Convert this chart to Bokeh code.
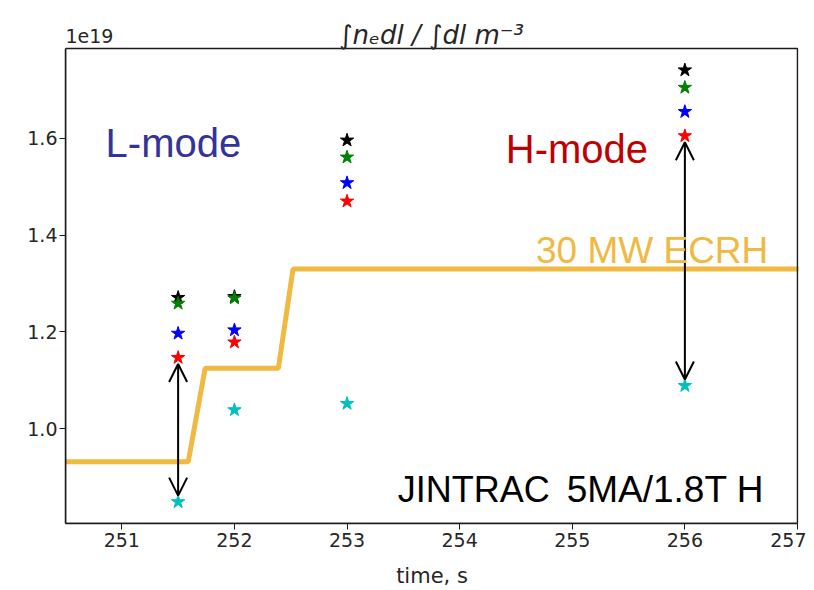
from bokeh.plotting import figure
from bokeh.models import Label, Arrow, OpenHead, Range1d, FixedTicker, BoxAnnotation
from bokeh.embed import file_html
from bokeh.resources import INLINE

# ---- data (values in units of 1e19 m^-3) ----
times = [251.5, 252.0, 253.0, 256.0]
series_black = [1.271, 1.273, 1.596, 1.741]
series_green = [1.259, 1.270, 1.561, 1.705]
series_blue = [1.197, 1.204, 1.508, 1.655]
series_red = [1.147, 1.179, 1.470, 1.605]
series_cyan = [0.849, 1.039, 1.052, 1.089]

# ECRH power trace (overlay, drawn on the density axis)
power_t = [250.47, 251.59, 251.74, 252.39, 252.52, 257.02]
power_level = [0.932, 0.932, 1.125, 1.125, 1.330, 1.330]

x_ticks = [251, 252, 253, 254, 255, 256, 257]
y_ticks = [1.0, 1.2, 1.4, 1.6]

# arrows between the red and cyan stars
arrow_times = [251.5, 256.0]

x0, x1 = 250.5, 257.0
all_vals = series_black + series_green + series_blue + series_red + series_cyan
ymin, ymax = min(all_vals), max(all_vals)
span = ymax - ymin
y0, y1 = ymin - 0.05 * span, ymax + 0.05 * span

# layout in pixels
FW, FH, TOP_EXTRA = 732, 475, 40
ppu_y = FH / (y1 - y0)
ppu_x = FW / (x1 - x0)
y_top = y1 + TOP_EXTRA / ppu_y
x_right = x1 + 1 / ppu_x

p = figure(frame_width=FW + 1, frame_height=FH + TOP_EXTRA,
           x_range=Range1d(x0, x_right), y_range=Range1d(y0, y_top),
           output_backend="svg", toolbar_location=None,
           min_border_left=65, min_border_right=8,
           min_border_top=8, min_border_bottom=59)

p.grid.visible = False
p.outline_line_color = None
p.background_fill_color = "white"
p.border_fill_color = "white"

# the visible axes box
p.add_layout(BoxAnnotation(left=x0, right=x1, bottom=y0, top=y1,
                           fill_alpha=0, line_color="#1a1a1a", line_alpha=1.0,
                           line_width=1.5))

for ax in (p.xaxis[0], p.yaxis[0]):
    ax.major_tick_out = 6
    ax.major_tick_in = 0
    ax.minor_tick_line_color = None
    ax.axis_line_color = "#1a1a1a"
    ax.axis_line_width = 1.5
    ax.major_tick_line_color = "#1a1a1a"
    ax.major_label_text_font = "DejaVu Sans"
    ax.major_label_text_font_size = "19px"
    ax.major_label_text_color = "#262626"

p.yaxis[0].bounds = (y0, y1)
p.xaxis[0].bounds = (x0, x1)
p.yaxis[0].major_label_standoff = 2
p.xaxis[0].major_label_standoff = 3
p.xaxis[0].ticker = FixedTicker(ticks=x_ticks)
p.yaxis[0].ticker = FixedTicker(ticks=y_ticks)
p.yaxis[0].major_label_overrides = {v: f"{v:.1f}" for v in y_ticks}
p.xaxis[0].major_label_overrides = {v: str(v) for v in x_ticks}
p.xaxis[0].axis_label = "time, s"
p.xaxis[0].axis_label_text_font = "DejaVu Sans"
p.xaxis[0].axis_label_text_font_style = "normal"
p.xaxis[0].axis_label_text_font_size = "21px"
p.xaxis[0].axis_label_text_color = "#262626"
p.xaxis[0].axis_label_standoff = 14

# ECRH trace
orange = "#F0B941"
p.line(power_t, power_level, line_color=orange, line_width=5)

# stars
for vals, col in [(series_black, "black"), (series_green, "#008000"),
                  (series_blue, "#0000FF"), (series_red, "#FF0000"),
                  (series_cyan, "#00BFBF")]:
    p.scatter(times, vals, marker="star", size=14, fill_color=col,
              line_color=col)

# arrows
gap = 0.013
for t in arrow_times:
    i = times.index(t)
    p.add_layout(Arrow(start=OpenHead(size=18, line_width=2, line_color="black"),
                       end=OpenHead(size=18, line_width=2, line_color="black"),
                       x_start=t, y_start=series_red[i] - gap,
                       x_end=t, y_end=series_cyan[i] + gap,
                       line_width=2, line_color="black"))

# annotations
p.add_layout(Label(x=250.856, y=1.590, text="L-mode", text_font="Liberation Sans",
                   text_font_size="40px", text_color="#333399",
                   text_baseline="alphabetic"))
p.add_layout(Label(x=254.41, y=1.578, text="H-mode", text_font="Liberation Sans",
                   text_font_size="40px", text_color="#C00000",
                   text_baseline="alphabetic"))
p.add_layout(Label(x=254.678, y=1.3685, text="30 MW ECRH", text_font="Liberation Sans",
                   text_font_size="37px", text_color=orange,
                   text_baseline="alphabetic"))
p.add_layout(Label(x=253.45, y=0.874, text="JINTRAC",
                   text_font="Liberation Sans", text_font_size="36px",
                   text_color="black", text_baseline="alphabetic"))
p.add_layout(Label(x=254.95, y=0.874, text="5MA/1.8T H",
                   text_font="Liberation Sans", text_font_size="37px",
                   text_color="black", text_baseline="alphabetic"))

# title and offset text above the axes box
p.add_layout(Label(x=(x0 + x1) / 2, y=y1 + 14 / ppu_y,
                   text="\u222bn\u2091dl / \u222bdl m\u207b\u00b3",
                   text_font="DejaVu Sans", text_font_size="26px",
                   text_font_style="italic", text_color="#262626",
                   text_align="center", text_baseline="alphabetic"))
p.add_layout(Label(x=x0, y=y1 + 13 / ppu_y, text="1e19", text_font="DejaVu Sans",
                   text_font_size="19px", text_color="#262626",
                   text_align="left", text_baseline="alphabetic"))

open("out.html", "w").write(file_html(p, INLINE))
